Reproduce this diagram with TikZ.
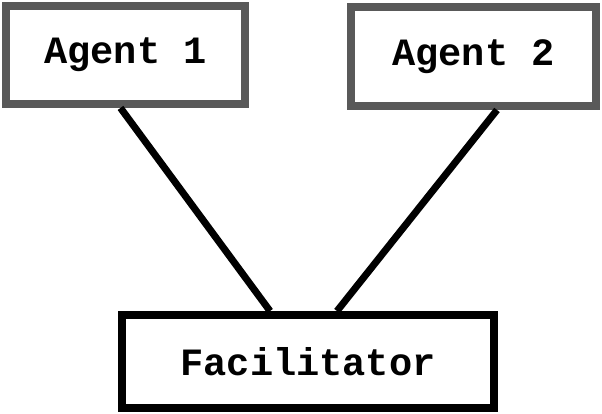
\documentclass[tikz,border=0pt]{standalone}
\usepackage{fontspec}
\setmonofont{Liberation Mono}
\usetikzlibrary{positioning}

\begin{document}
\begin{tikzpicture}[x=0.02cm,y=-0.02cm,
  agent/.style={draw=black!65,line width=4.5pt,fill=white,font=\ttfamily\bfseries\fontsize{22}{26}\selectfont},
  facil/.style={draw=black,line width=4.5pt,fill=white,font=\ttfamily\bfseries\fontsize{22}{26}\selectfont},
  link/.style={line width=4pt}]
 \useasboundingbox (0,0) rectangle (602,413);

 \node[agent,minimum width=4.78cm,minimum height=1.96cm,name=agent1] at (125.5,55)   {Agent 1};
 \node[agent,minimum width=4.9cm, minimum height=1.98cm,name=agent2] at (473.5,56.5) {Agent 2};
 \node[facil,minimum width=7.44cm,minimum height=1.86cm,name=fac]    at (308,361.5)  {Facilitator};

 \draw[link] ([xshift=-0.1cm]agent1.south)  -- ([xshift=-0.76cm]fac.north);
 \draw[link] ([xshift=0.47cm]agent2.south)  -- ([xshift=0.58cm]fac.north);

\end{tikzpicture}
\end{document}
